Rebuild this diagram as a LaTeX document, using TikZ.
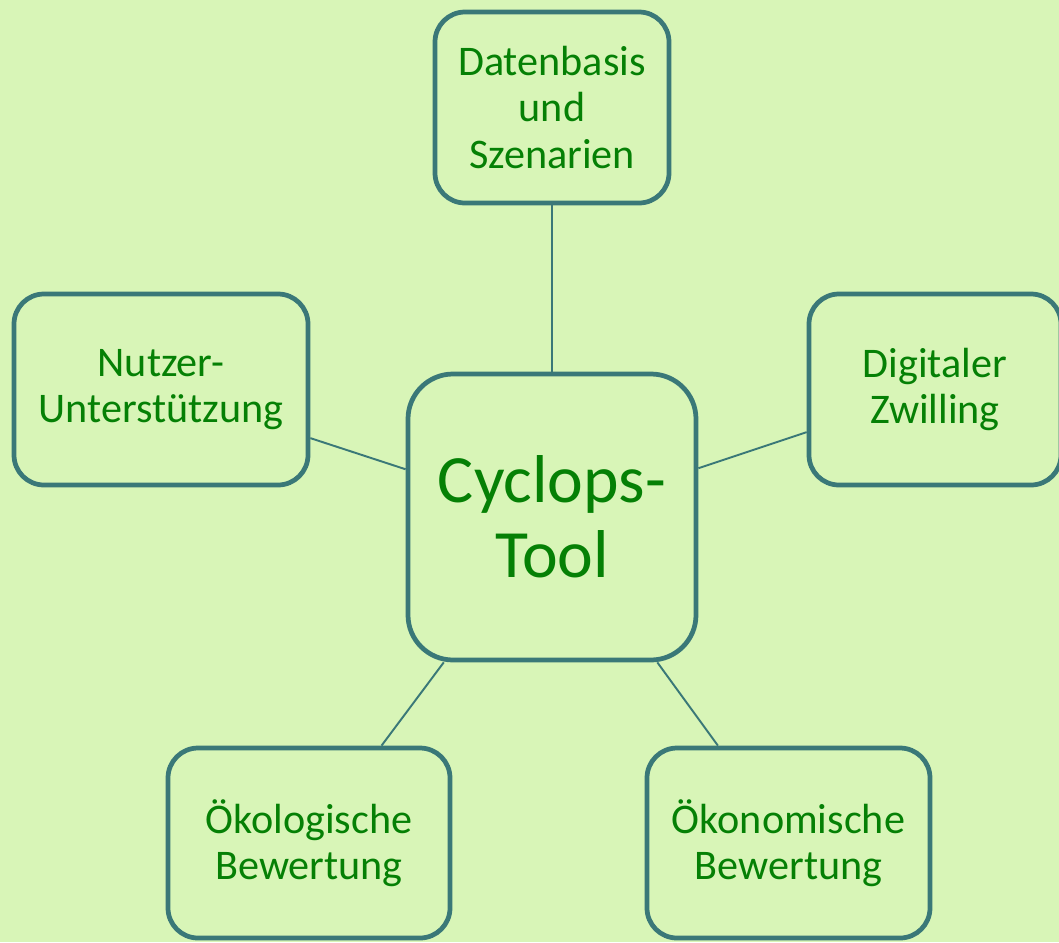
\documentclass[tikz,border=0pt]{standalone}
\usepackage{fontspec}
\setmainfont{Carlito}
\definecolor{bggreen}{HTML}{D8F5B7}
\definecolor{boxedge}{HTML}{3A7878}
\definecolor{textgreen}{HTML}{058005}
\begin{document}
\begin{tikzpicture}[
    topic/.style={draw=boxedge, line width=2.7pt, fill=bggreen, rounded corners=0.6cm,
        text=textgreen, align=center, inner sep=0pt,
        font=\fontsize{24}{26.5}\selectfont},
    hub/.style={topic, rounded corners=0.9cm, font=\fontsize{38.5}{42.5}\selectfont},
    link/.style={draw=boxedge, line width=1.1pt}
]
    % Background
    \fill[bggreen] (0,0) rectangle (21.18,-18.84);
    \useasboundingbox (0,0) rectangle (21.18,-18.84);

    % Central box
    \node[hub, minimum width=5.76cm, minimum height=5.72cm] (core) at (11.04,-10.34) {Cyclops-\\Tool};

    % Surrounding boxes
    \node[topic, minimum width=4.68cm, minimum height=3.82cm] (data) at (11.04,-2.15) {Datenbasis\\und\\Szenarien};
    \node[topic, minimum width=5.88cm, minimum height=3.82cm] (user) at (3.22,-7.79) {Nutzer-\\Unterstützung};
    \node[topic, minimum width=5.04cm, minimum height=3.82cm] (twin) at (18.7,-7.79) {Digitaler\\Zwilling};
    \node[topic, minimum width=5.64cm, minimum height=3.8cm] (eco) at (6.18,-16.86) {Ökologische\\Bewertung};
    \node[topic, minimum width=5.66cm, minimum height=3.8cm] (econ) at (15.77,-16.86) {Ökonomische\\Bewertung};

    % Connect the boxes to the centre
    \draw[link] (core) -- (data);
    \draw[link] (core) -- (user);
    \draw[link] (core) -- (twin);
    \draw[link] (core) -- (eco);
    \draw[link] (core) -- (econ);

\end{tikzpicture}
\end{document}
